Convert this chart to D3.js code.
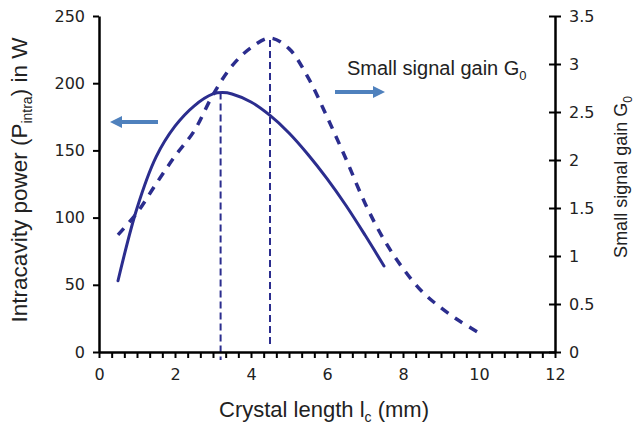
<!DOCTYPE html>
<html>
<head>
<meta charset="utf-8">
<script src="https://cdn.jsdelivr.net/npm/d3@7"></script>
<style>
  html, body { margin: 0; padding: 0; background: #fff; }
  svg { display: block; }
  .tick text { font-family: "DejaVu Sans", Verdana, sans-serif; font-size: 16px; fill: #222; }
  .title { font-family: "Liberation Sans", Arial, sans-serif; fill: #222; }
</style>
</head>
<body>
<svg id="chart" width="634" height="424"></svg>
<script>
// Crystal length (mm) sampled for the intracavity power curve
const powerLength = [0.5, 1, 1.5, 2, 2.5, 3, 3.25, 3.5, 4, 4.5, 5, 5.5, 6, 6.5, 7, 7.5];
// Intracavity power P_intra (W)
const powerValues = [53, 107, 145, 168, 183, 192, 193, 192, 186, 176, 163, 147, 129, 109, 87, 64];

// Crystal length (mm) sampled for the small signal gain curve
const gainLength = [0.5, 1, 1.5, 2, 2.5, 3, 3.5, 4, 4.5, 5, 5.5, 6, 6.5, 7, 7.5, 8, 8.5, 9, 9.5, 10];
// Small signal gain G0
const gainValues = [1.22, 1.45, 1.75, 2.04, 2.30, 2.68, 2.98, 3.17, 3.27, 3.16, 2.86, 2.45, 2.01, 1.55, 1.17, 0.87, 0.63, 0.46, 0.32, 0.20];

// Optimum crystal lengths (mm): power maximum and gain maximum
const optimumLength = [3.2, 4.5];

// Axis ticks
const xTickLabels = [0, 2, 4, 6, 8, 10, 12];
const powerTicks = [0, 50, 100, 150, 200, 250];
const gainTicks = [0, 0.5, 1, 1.5, 2, 2.5, 3, 3.5];

const svg = d3.select("#chart");
const navy = "#2b2d8e";
const arrowBlue = "#4f81bd";

const x = d3.scaleLinear().domain([0, 12]).range([99, 555]);
const yP = d3.scaleLinear().domain([0, 250]).range([352, 16]);
const yG = d3.scaleLinear().domain([0, 3.5]).range([352, 16]);

// Vertical markers at the two optimum lengths
const powerMax = d3.max(powerValues);
const gainMax = d3.max(gainValues);
svg.append("line")
  .attr("x1", x(optimumLength[0])).attr("x2", x(optimumLength[0]))
  .attr("y1", yP(powerMax)).attr("y2", yP(0) + 8)
  .attr("stroke", navy).attr("stroke-width", 2).attr("stroke-dasharray", "7,4");
svg.append("line")
  .attr("x1", x(optimumLength[1])).attr("x2", x(optimumLength[1]))
  .attr("y1", yG(gainMax) + 2).attr("y2", yG(0) - 8)
  .attr("stroke", navy).attr("stroke-width", 2).attr("stroke-dasharray", "7,4");

// Power curve (left axis)
const powerLine = d3.line()
  .x((d, i) => x(powerLength[i]))
  .y(d => yP(d))
  .curve(d3.curveCatmullRom.alpha(0.5));
svg.append("path")
  .attr("d", powerLine(powerValues))
  .attr("fill", "none").attr("stroke", navy).attr("stroke-width", 3)
  .attr("stroke-linecap", "round");

// Gain curve (right axis)
const gainLine = d3.line()
  .x((d, i) => x(gainLength[i]))
  .y(d => yG(d))
  .curve(d3.curveCatmullRom.alpha(0.5));
svg.append("path")
  .attr("d", gainLine(gainValues))
  .attr("fill", "none").attr("stroke", navy).attr("stroke-width", 3.5)
  .attr("stroke-dasharray", "9,8");

// Axes
const axisStyle = g => {
  g.select(".domain").attr("stroke", "#000").attr("stroke-width", 2.5);
  g.selectAll(".tick line").attr("stroke", "#000").attr("stroke-width", 2);
};

const minorX = d3.range(0, 36 + 1).map(i => i / 3);
svg.append("g")
  .attr("transform", `translate(0,${yP(0)})`)
  .call(d3.axisBottom(x).tickValues(minorX).tickSize(6).tickSizeOuter(0).tickPadding(11)
    .tickFormat(d => {
      const r = Math.round(d);
      return Math.abs(d - r) < 1e-6 && xTickLabels.includes(r) ? String(r) : "";
    }))
  .call(axisStyle);

svg.append("g")
  .attr("transform", `translate(${x(0)},0)`)
  .call(d3.axisLeft(yP).tickValues(powerTicks).tickSize(6).tickSizeOuter(0).tickPadding(8))
  .call(axisStyle);

svg.append("g")
  .attr("transform", `translate(${x(12)},0)`)
  .call(d3.axisRight(yG).tickValues(gainTicks).tickSize(6).tickSizeOuter(0).tickPadding(8)
    .tickFormat(d => String(d)))
  .call(axisStyle)
  .call(g => g.selectAll(".tick line").attr("x1", -6));

// Axis titles
svg.append("text").attr("class", "title")
  .attr("transform", `translate(27,180) rotate(-90)`)
  .attr("text-anchor", "middle").attr("font-size", 22.5)
  .html('Intracavity power (P<tspan font-size="14" dy="5">intra</tspan><tspan dy="-5">) in W</tspan>');

svg.append("text").attr("class", "title")
  .attr("transform", `translate(627,177) rotate(-90)`)
  .attr("text-anchor", "middle").attr("font-size", 18)
  .html('Small signal gain G<tspan font-size="12" dy="5">0</tspan>');

svg.append("text").attr("class", "title")
  .attr("x", 324).attr("y", 417)
  .attr("text-anchor", "middle").attr("font-size", 22)
  .html('Crystal length l<tspan font-size="14" dy="5">c</tspan><tspan dy="-5"> (mm)</tspan>');

svg.append("text").attr("class", "title")
  .attr("x", 347).attr("y", 75)
  .attr("font-size", 20)
  .html('Small signal gain G<tspan font-size="13" dy="5">0</tspan>');

// Direction arrows pointing to each curve's axis
function arrow(x1, x2, y) {
  const dir = Math.sign(x2 - x1);
  const headLen = 12, headHalf = 6;
  const g = svg.append("g");
  g.append("line")
    .attr("x1", x1).attr("x2", x2 - dir * headLen).attr("y1", y).attr("y2", y)
    .attr("stroke", arrowBlue).attr("stroke-width", 4);
  g.append("path")
    .attr("d", `M${x2},${y} L${x2 - dir * headLen},${y - headHalf} L${x2 - dir * headLen},${y + headHalf} Z`)
    .attr("fill", arrowBlue);
}
arrow(158, 110, 122);
arrow(335, 385, 92);
</script>
</body>
</html>
